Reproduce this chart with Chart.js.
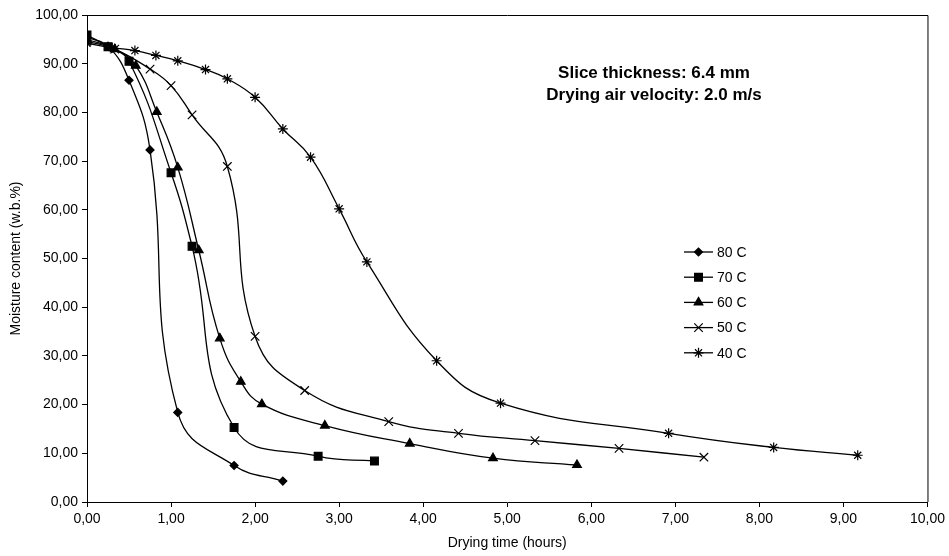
<!DOCTYPE html>
<html>
<head>
<meta charset="utf-8">
<title>Drying curves</title>
<script src="https://cdn.jsdelivr.net/npm/chart.js@4/dist/chart.umd.min.js"></script>
<style>
  html, body { margin: 0; padding: 0; background: #fff; }
  #wrap { position: relative; width: 949px; height: 556px; }
</style>
</head>
<body>
<div id="wrap"><canvas id="chart"></canvas></div>
<script>
// data: drying time (hours) and moisture content (w.b.%)
const labels = ['80 C', '70 C', '60 C', '50 C', '40 C'];

const time80 = [0, 0.25, 0.5, 0.75, 1.08, 1.75, 2.33];
const mc80   = [95.4, 93.6, 86.6, 72.3, 18.4, 7.5, 4.3];

const time70 = [0, 0.25, 0.5, 1.0, 1.25, 1.75, 2.75, 3.42];
const mc70   = [95.9, 93.5, 90.5, 67.6, 52.5, 15.3, 9.4, 8.4];

const time60 = [0, 0.33, 0.58, 0.83, 1.08, 1.33, 1.58, 1.83, 2.08, 2.83, 3.84, 4.83, 5.83];
const mc60   = [95.0, 93.0, 89.6, 80.1, 68.7, 51.7, 33.6, 24.7, 20.1, 15.7, 12.0, 9.0, 7.6];

const time50 = [0, 0.33, 0.75, 1.0, 1.25, 1.67, 2.0, 2.59, 3.59, 4.42, 5.33, 6.33, 7.34];
const mc50   = [94.6, 93.0, 88.9, 85.5, 79.5, 68.9, 34.0, 22.9, 16.5, 14.1, 12.6, 11.0, 9.2];

const time40 = [0, 0.3, 0.57, 0.82, 1.08, 1.41, 1.67, 2.0, 2.33, 2.66, 3.0, 3.33, 4.16, 4.92, 6.92, 8.17, 9.17];
const mc40   = [94.2, 93.3, 92.7, 91.7, 90.6, 88.8, 86.9, 83.1, 76.6, 70.8, 60.2, 49.3, 29.0, 20.3, 14.1, 11.2, 9.6];

const xTicks = [0, 1, 2, 3, 4, 5, 6, 7, 8, 9, 10];
const yTicks = [0, 10, 20, 30, 40, 50, 60, 70, 80, 90, 100];

const noteLines = ['Slice thickness: 6.4 mm', 'Drying air velocity: 2.0 m/s'];

const FONT = "'Liberation Sans', Arial, sans-serif";

function pts(xs, ys) {
  return xs.map((x, i) => ({ x: x, y: ys[i] }));
}

function comma(v) {
  return Number(v).toFixed(2).replace('.', ',');
}

const styles = [
  { pointStyle: 'rectRot', pointRadius: 4 },
  { pointStyle: 'rect', pointRadius: 5.5 },
  { pointStyle: 'triangle', pointRadius: 5 },
  { pointStyle: 'crossRot', pointRadius: 6 },
  { pointStyle: 'star', pointRadius: 5 }
];

const series = [pts(time80, mc80), pts(time70, mc70), pts(time60, mc60), pts(time50, mc50), pts(time40, mc40)];

const datasets = series.map((d, i) => ({
  label: labels[i],
  data: d,
  borderColor: '#000',
  backgroundColor: '#000',
  borderWidth: 1.3,
  pointBorderWidth: 1.2,
  pointHoverRadius: styles[i].pointRadius,
  tension: 0.45,
  pointStyle: styles[i].pointStyle,
  pointRadius: styles[i].pointRadius
}));

// frame, annotation text and the line+marker legend inside the plot
const extras = {
  id: 'extras',
  afterDraw(chart) {
    const { ctx, chartArea: a } = chart;
    ctx.save();
    ctx.strokeStyle = '#000';
    ctx.lineWidth = 1;
    ctx.beginPath();
    ctx.moveTo(a.left, a.top + 0.5);
    ctx.lineTo(a.right + 0.5, a.top + 0.5);
    ctx.lineTo(a.right + 0.5, a.bottom);
    ctx.stroke();

    ctx.fillStyle = '#000';
    ctx.font = 'bold 17px ' + FONT;
    ctx.textAlign = 'center';
    ctx.textBaseline = 'middle';
    ctx.fillText(noteLines[0], 654, 73);
    ctx.fillText(noteLines[1], 654, 95);

    ctx.font = '14px ' + FONT;
    ctx.textAlign = 'left';
    chart.data.datasets.forEach((ds, i) => {
      const y = 252 + i * 25.2;
      ctx.lineWidth = 1.3;
      ctx.beginPath();
      ctx.moveTo(684, y);
      ctx.lineTo(713, y);
      ctx.stroke();
      ctx.lineWidth = 1.2;
      Chart.helpers.drawPoint(ctx, {
        pointStyle: ds.pointStyle,
        radius: ds.pointRadius,
        borderWidth: 1.2
      }, 698.5, y);
      ctx.fillText(ds.label, 717, y + 1);
    });
    ctx.restore();
  }
};

new Chart(document.getElementById('chart'), {
  type: 'line',
  data: { datasets: datasets },
  options: {
    responsive: true,
    maintainAspectRatio: false,
    animation: false,
    layout: { padding: { top: 15, right: 20, left: 0, bottom: 0 } },
    plugins: {
      legend: { display: false },
      tooltip: { enabled: false }
    },
    scales: {
      x: {
        type: 'linear',
        min: 0,
        max: 10,
        afterBuildTicks: s => { s.ticks = xTicks.map(v => ({ value: v })); },
        afterFit: s => { s.height = 54; },
        grid: { drawOnChartArea: false, drawTicks: true, tickLength: 5, color: '#000' },
        border: { color: '#000', width: 1 },
        ticks: {
          color: '#000',
          padding: 4,
          maxRotation: 0,
          font: { family: FONT, size: 14 },
          callback: v => comma(v)
        },
        title: {
          display: true,
          text: 'Drying time (hours)',
          color: '#000',
          font: { family: FONT, size: 14 },
          padding: { top: 0, bottom: 4 }
        }
      },
      y: {
        min: 0,
        max: 100,
        afterBuildTicks: s => { s.ticks = yTicks.map(v => ({ value: v })); },
        afterFit: s => { s.width = 87; },
        grid: { drawOnChartArea: false, drawTicks: true, tickLength: 5, color: '#000' },
        border: { color: '#000', width: 1 },
        ticks: {
          color: '#000',
          padding: 4,
          font: { family: FONT, size: 14 },
          callback: v => comma(v)
        },
        title: {
          display: true,
          text: 'Moisture content (w.b.%)',
          color: '#000',
          font: { family: FONT, size: 14 },
          padding: { top: 8, bottom: 0 }
        }
      }
    }
  },
  plugins: [extras]
});
</script>
</body>
</html>
